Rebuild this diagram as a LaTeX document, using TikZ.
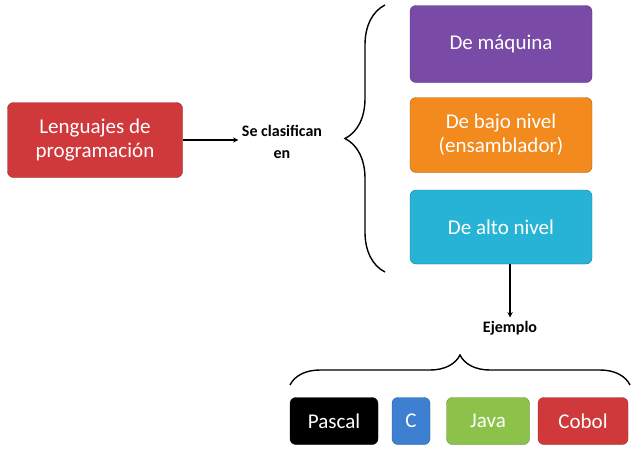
\documentclass[tikz,border=0pt]{standalone}
\usepackage{fontspec}
\setmainfont{Carlito}
\usetikzlibrary{decorations.pathreplacing}
\definecolor{cred}{HTML}{D0393C}
\definecolor{cpur}{HTML}{7A4BA6}
\definecolor{cora}{HTML}{F28A1E}
\definecolor{ccya}{HTML}{27B3D6}
\definecolor{cgrn}{HTML}{8CC24A}
\definecolor{cblu}{HTML}{3D7FD0}
\tikzset{
 box/.style={rounded corners=6pt,draw=#1!70!black,fill=#1,text=white,font=\fontsize{21}{24}\selectfont,align=center,inner sep=0pt},
 lbl/.style={font=\bfseries\fontsize{16}{22}\selectfont,align=center},
 arr/.style={->,>=stealth,line width=1.4pt},
 brc/.style={decorate,decoration={brace,amplitude=#1},line width=1.4pt}
}
\begin{document}
\begin{tikzpicture}[x=1pt,y=-1pt]
\useasboundingbox (0,0) rectangle (640,459);
\node[box=cred,minimum width=175pt,minimum height=75pt] (L) at (95,140) {Lenguajes de\\programación};
\node[lbl] (S) at (282,142) {Se clasifican\\en};
\draw[arr] (L.east) -- (L.east -| S.west);
\draw[brc=40pt] (385,272) -- (385,5);
\node[box=cpur,minimum width=182pt,minimum height=77pt] (M) at (501,44) {De máquina};
\node[box=cora,minimum width=182pt,minimum height=75pt] (B) at (501,135) {De bajo nivel\\(ensamblador)};
\node[box=ccya,minimum width=182pt,minimum height=74pt] (A) at (501,227) {De alto nivel};
\node[lbl] (E) at (510,328) {Ejemplo};
\draw[arr] (A.south -| E.north) -- (E.north);
\draw[brc=30pt] (290,385) -- (630,385);
\node[box=black,minimum width=88pt,minimum height=47pt] (P) at (334,421) {Pascal};
\node[box=cblu,minimum width=38pt,minimum height=47pt] (C) at (411,421) {C};
\node[box=cgrn,minimum width=83pt,minimum height=47pt] (J) at (488,421) {Java};
\node[box=cred,minimum width=90pt,minimum height=47pt] (K) at (583,421) {Cobol};
\end{tikzpicture}
\end{document}
